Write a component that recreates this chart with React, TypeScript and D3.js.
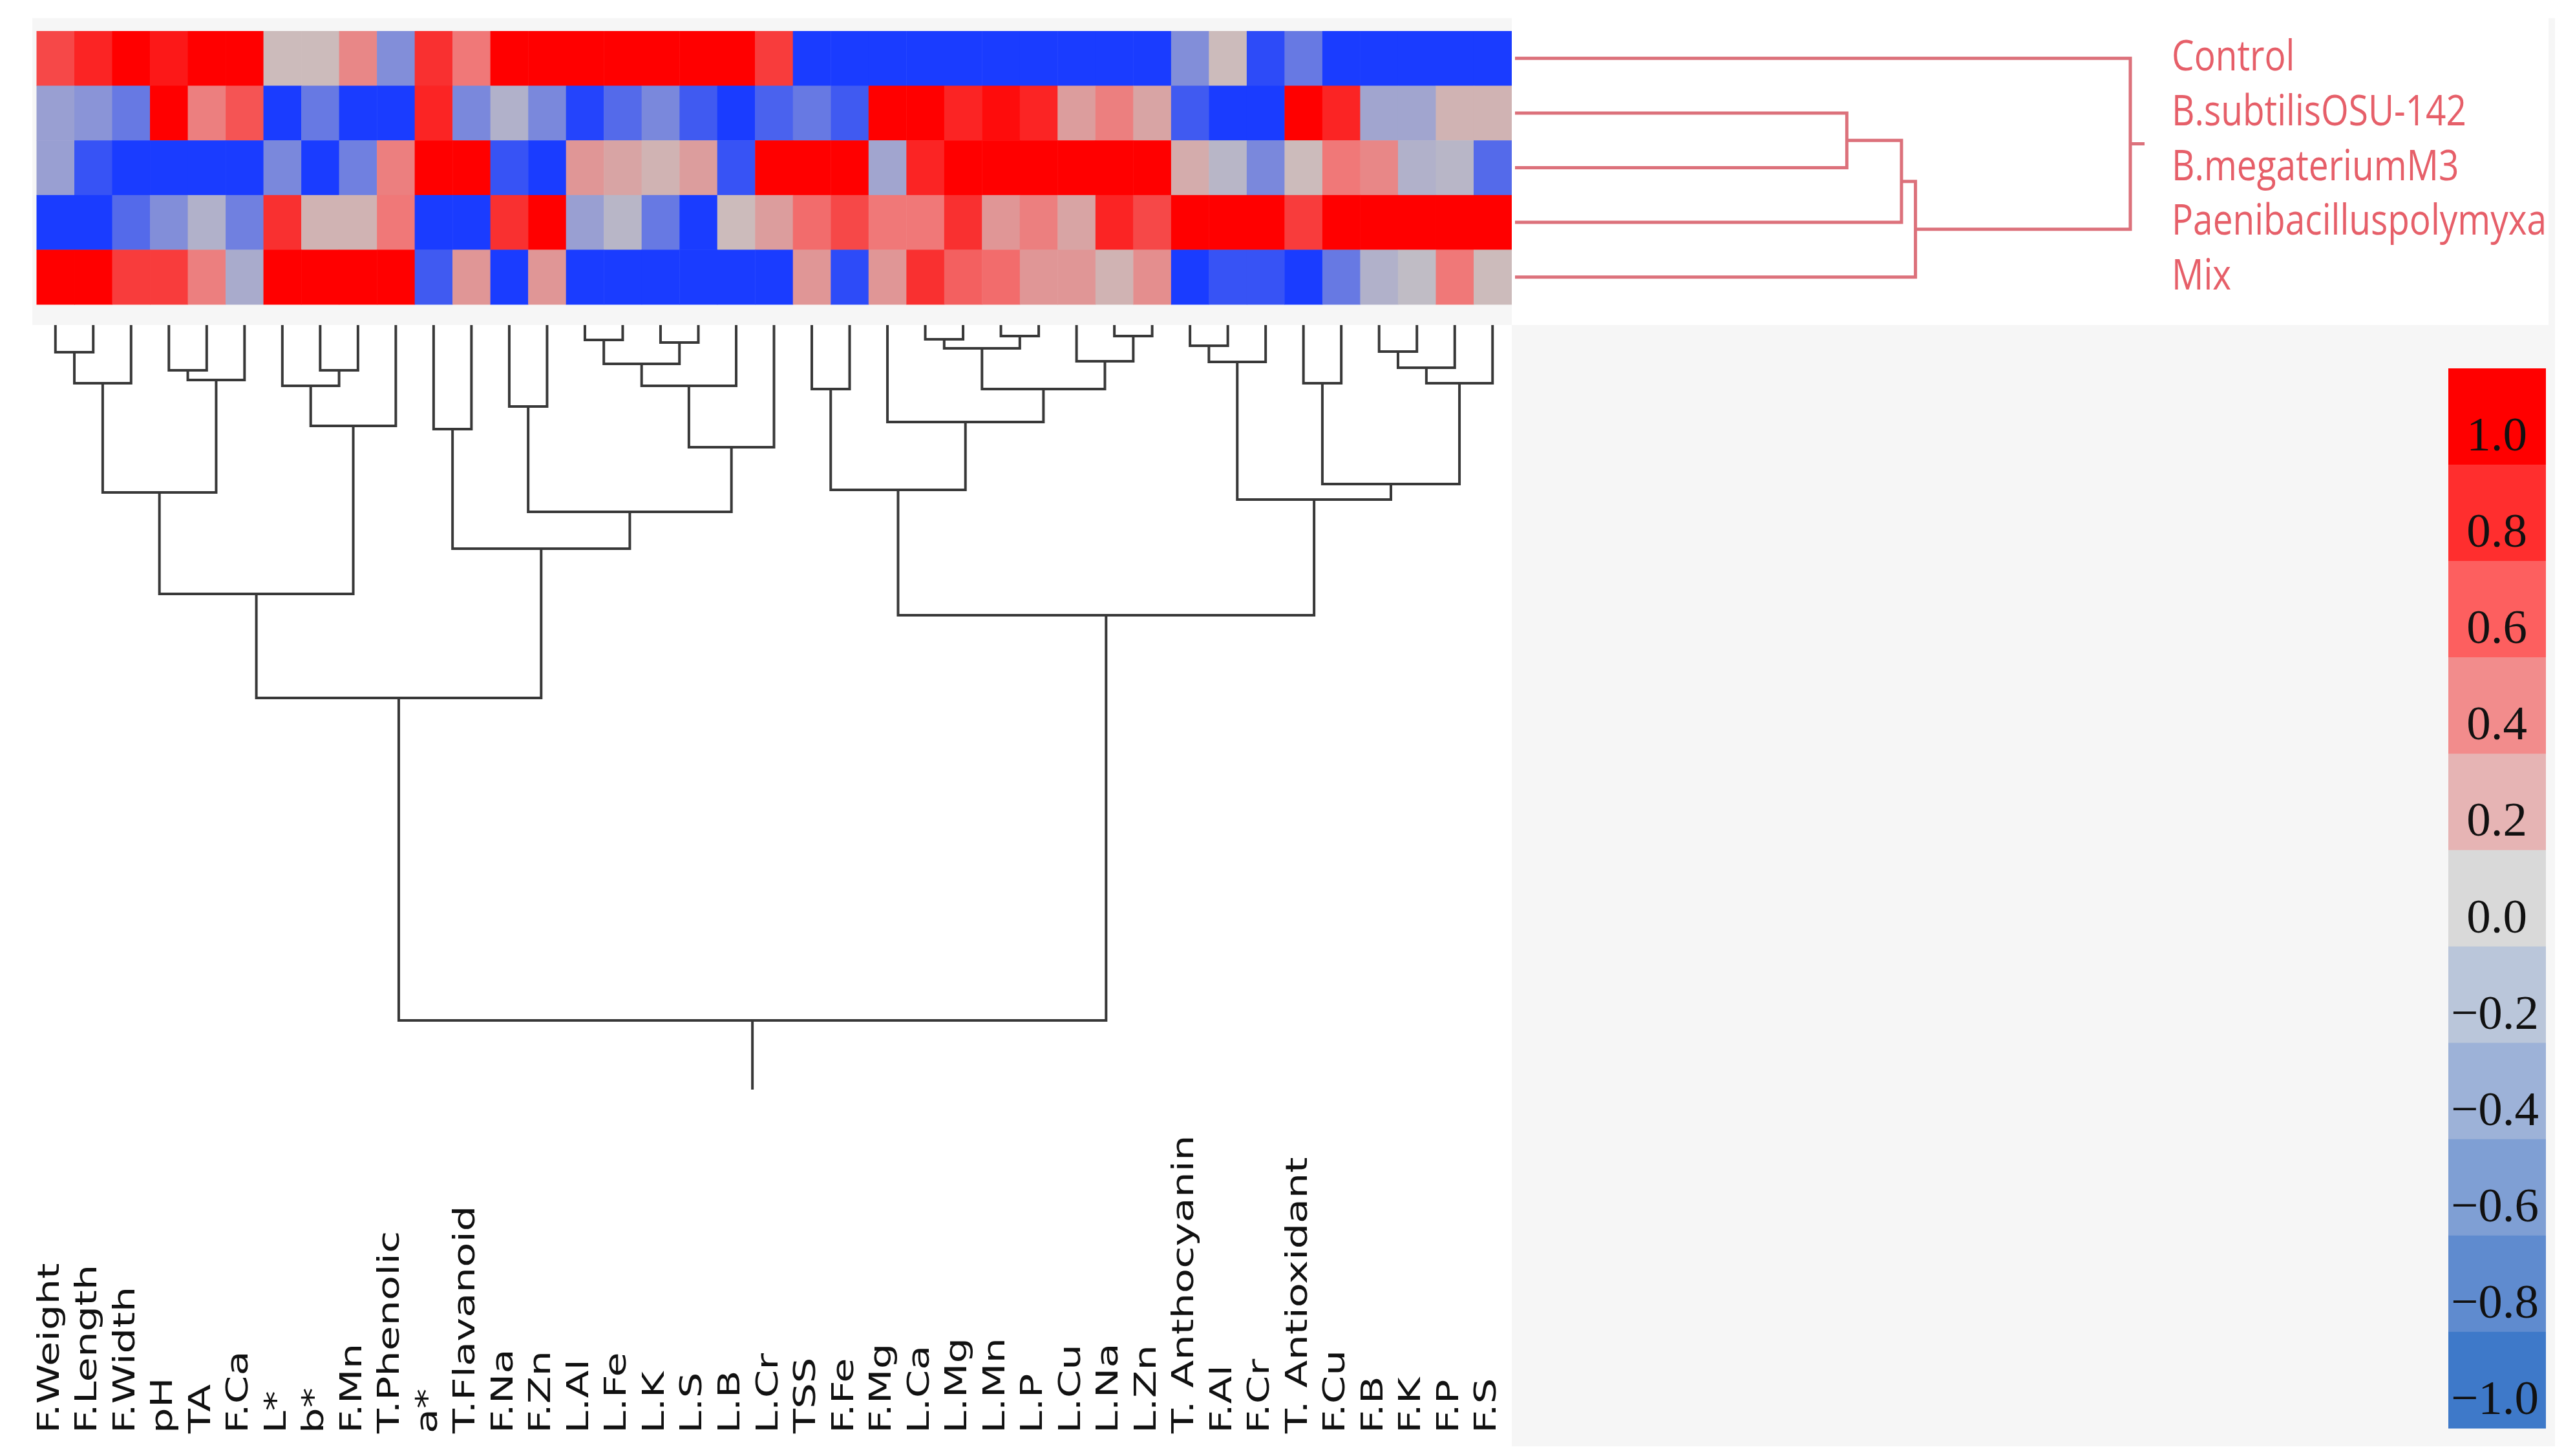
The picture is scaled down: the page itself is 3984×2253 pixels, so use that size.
import React from "react";
import * as d3 from "d3";

// ---------- data ----------
const columns = [
  "F.Weight", "F.Length", "F.Width", "pH", "TA", "F.Ca", "L*", "b*", "F.Mn", "T.Phenolic",
  "a*", "T.Flavanoid", "F.Na", "F.Zn", "L.Al", "L.Fe", "L.K", "L.S", "L.B", "L.Cr",
  "TSS", "F.Fe", "F.Mg", "L.Ca", "L.Mg", "L.Mn", "L.P", "L.Cu", "L.Na", "L.Zn",
  "T. Anthocyanin", "F.Al", "F.Cr", "T. Antioxidant", "F.Cu", "F.B", "F.K", "F.P", "F.S",
];

const treatments = ["Control", "B.subtilisOSU-142", "B.megateriumM3", "Paenibacilluspolymyxa", "Mix"];

const controlValues = [
  0.7, 0.85, 1.0, 0.9, 1.0, 1.0, 0.05, 0.05, 0.4, -0.45,
  0.8, 0.5, 1.0, 1.0, 1.0, 1.0, 1.0, 1.0, 1.0, 0.75,
  -1.0, -1.0, -1.0, -1.0, -1.0, -1.0, -1.0, -1.0, -1.0, -1.0,
  -0.45, 0.05, -0.9, -0.6, -1.0, -1.0, -1.0, -1.0, -1.0,
];
const subtilisValues = [
  -0.3, -0.4, -0.6, 1.0, 0.45, 0.65, -1.0, -0.6, -1.0, -1.0,
  0.85, -0.5, -0.15, -0.5, -0.95, -0.7, -0.5, -0.8, -1.0, -0.75,
  -0.6, -0.8, 1.0, 1.0, 0.85, 0.95, 0.85, 0.25, 0.45, 0.2,
  -0.8, -1.0, -1.0, 1.0, 0.85, -0.25, -0.25, 0.1, 0.1,
];
const megateriumValues = [
  -0.3, -0.85, -1.0, -1.0, -1.0, -1.0, -0.5, -1.0, -0.55, 0.45,
  1.0, 1.0, -0.85, -1.0, 0.3, 0.2, 0.1, 0.25, -0.85, 1.0,
  1.0, 1.0, -0.25, 0.85, 1.0, 1.0, 1.0, 1.0, 1.0, 1.0,
  0.15, -0.1, -0.5, 0.05, 0.5, 0.4, -0.15, -0.1, -0.7,
];
const polymyxaValues = [
  -1.0, -1.0, -0.7, -0.45, -0.15, -0.55, 0.8, 0.1, 0.1, 0.5,
  -1.0, -1.0, 0.8, 1.0, -0.3, -0.1, -0.6, -1.0, 0.05, 0.25,
  0.55, 0.7, 0.5, 0.5, 0.8, 0.3, 0.45, 0.2, 0.85, 0.7,
  1.0, 1.0, 1.0, 0.75, 1.0, 1.0, 1.0, 1.0, 1.0,
];
const mixValues = [
  1.0, 1.0, 0.75, 0.75, 0.45, -0.2, 1.0, 1.0, 1.0, 1.0,
  -0.8, 0.3, -1.0, 0.3, -1.0, -1.0, -1.0, -1.0, -1.0, -1.0,
  0.3, -0.9, 0.3, 0.8, 0.6, 0.55, 0.3, 0.3, 0.1, 0.35,
  -1.0, -0.85, -0.85, -1.0, -0.6, -0.15, -0.05, 0.5, 0.05,
];
const rowValues = [controlValues, subtilisValues, megateriumValues, polymyxaValues, mixValues];

// column linkage: [childA, childB, height]; ids >= 39 are merged clusters in order
const columnLinkage: [number, number, number][] = [
  [0, 1, 0.40], [39, 2, 0.88], [3, 4, 0.68], [41, 5, 0.83], [40, 42, 2.57],
  [7, 8, 0.68], [6, 44, 0.92], [45, 9, 1.54], [43, 46, 4.14], [10, 11, 1.59],
  [12, 13, 1.24], [14, 15, 0.21], [16, 17, 0.25], [50, 51, 0.58], [52, 18, 0.92],
  [53, 19, 1.87], [49, 54, 2.87], [48, 55, 3.44], [47, 56, 5.75], [20, 21, 0.97],
  [23, 24, 0.20], [25, 26, 0.15], [59, 60, 0.34], [28, 29, 0.15], [27, 62, 0.54],
  [61, 63, 0.97], [22, 64, 1.48], [58, 65, 2.53], [30, 31, 0.30], [67, 32, 0.55],
  [33, 34, 0.88], [35, 36, 0.39], [70, 37, 0.64], [71, 38, 0.88], [69, 72, 2.44],
  [68, 73, 2.68], [66, 74, 4.47], [57, 75, 10.74],
];

// row linkage: ids >= 5 are merged clusters
const rowLinkage: [number, number, number][] = [
  [1, 2, 5.22], [5, 3, 6.08], [6, 4, 6.30], [0, 7, 9.68],
];

const legendTicks = [1.0, 0.8, 0.6, 0.4, 0.2, 0.0, -0.2, -0.4, -0.6, -0.8, -1.0];

// ---------- styles ----------
const legendColors = [
  "#ff0000", "#ff2e2e", "#fd5f5f", "#f28c8c", "#e6b4b4", "#d9d9d9",
  "#bac6da", "#9db2d8", "#7f9fd4", "#5f8bcf", "#3e79c9",
];

export default function App() {
  const W = 3984;
  const H = 2253;

  const x = d3.scaleBand<number>().domain(d3.range(columns.length)).range([56.5, 2338.5]);
  const y = d3.scaleBand<number>().domain(d3.range(treatments.length)).range([48, 471]);
  const cx = (i: number) => (x(i) as number) + x.bandwidth() / 2;
  const cy = (i: number) => (y(i) as number) + y.bandwidth() / 2;

  const color = d3
    .scaleLinear<string>()
    .domain([-1, -0.5, 0, 0.5, 1])
    .range(["#1a3cff", "#7a88dc", "#c8c2c2", "#f07878", "#ff0000"])
    .interpolate(d3.interpolateRgb)
    .clamp(true);

  // column dendrogram
  const colRootH = d3.max(columnLinkage, (d) => d[2]) as number;
  const colH = d3.scaleLinear().domain([0, colRootH]).range([505, 1579]);
  const nCol = columns.length;
  const cNodeX: number[] = d3.range(nCol).map(cx);
  const cNodeY: number[] = d3.range(nCol).map(() => colH(0));
  const colPaths: string[] = [];
  columnLinkage.forEach(([a, b, h]) => {
    const yy = colH(h);
    colPaths.push(`M${cNodeX[a]},${cNodeY[a]}V${yy}H${cNodeX[b]}V${cNodeY[b]}`);
    cNodeX.push((cNodeX[a] + cNodeX[b]) / 2);
    cNodeY.push(yy);
  });
  const cRoot = cNodeX.length - 1;
  colPaths.push(`M${cNodeX[cRoot]},${cNodeY[cRoot]}V${cNodeY[cRoot] + 105}`);

  // row dendrogram
  const rowRootH = d3.max(rowLinkage, (d) => d[2]) as number;
  const rowH = d3.scaleLinear().domain([0, rowRootH]).range([2344, 3296]);
  const nRow = treatments.length;
  const rNodeX: number[] = d3.range(nRow).map(() => rowH(0));
  const rNodeY: number[] = d3.range(nRow).map(cy);
  const rowPaths: string[] = [];
  rowLinkage.forEach(([a, b, h]) => {
    const xx = rowH(h);
    rowPaths.push(`M${rNodeX[a]},${rNodeY[a]}H${xx}V${rNodeY[b]}H${rNodeX[b]}`);
    rNodeX.push(xx);
    rNodeY.push((rNodeY[a] + rNodeY[b]) / 2);
  });
  const rRoot = rNodeX.length - 1;
  rowPaths.push(`M${rNodeX[rRoot]},${rNodeY[rRoot]}H${rNodeX[rRoot] + 22}`);

  // legend
  const ly = d3.scaleBand<number>().domain(d3.range(legendTicks.length)).range([570, 2210]);
  const fmt = (v: number) => (v < 0 ? "\u2212" + Math.abs(v).toFixed(1) : v.toFixed(1));

  return (
    <svg width={W} height={H} viewBox={`0 0 ${W} ${H}`} style={{ display: "block", position: "absolute", left: 0, top: 0 }}>
      <rect x={0} y={0} width={W} height={H} fill="#ffffff" />
      <rect x={50} y={28} width={3903} height={2210} fill="#f6f6f6" />
      <rect x={2339} y={28} width={1604} height={475} fill="#ffffff" />
      <rect x={50} y={503} width={2289} height={1735} fill="#ffffff" />

      {/* heatmap */}
      <g>
        {rowValues.map((row, r) =>
          row.map((v, c) => (
            <rect
              key={`${r}-${c}`}
              x={x(c)}
              y={y(r)}
              width={x.bandwidth() + 0.5}
              height={y.bandwidth() + 0.5}
              fill={color(v)}
            />
          ))
        )}
      </g>

      {/* column dendrogram */}
      <g fill="none" stroke="#383838" strokeWidth={4} strokeLinecap="square">
        {colPaths.map((d, i) => (
          <path key={i} d={d} />
        ))}
      </g>

      {/* row dendrogram */}
      <g fill="none" stroke="#dc717b" strokeWidth={5}>
        {rowPaths.map((d, i) => (
          <path key={i} d={d} />
        ))}
      </g>

      {/* row labels */}
      <g fontFamily="'Open Sans', 'Noto Sans', sans-serif" fontSize={55} fill="#e65f69">
        {treatments.map((t, i) => (
          <text key={t} transform={`translate(3360,${cy(i) + 19}) scale(1,1.2)`}>
            {t}
          </text>
        ))}
      </g>

      {/* column labels */}
      <g fontFamily="'DejaVu Sans', sans-serif" fontSize={47} fill="#111111">
        {columns.map((c, i) => (
          <text key={c} transform={`translate(${cx(i) + 5},2218) rotate(-90) scale(1.33,1)`}>
            {c}
          </text>
        ))}
      </g>

      {/* color legend */}
      <g>
        {legendTicks.map((v, i) => (
          <rect
            key={`lg-${i}`}
            x={3788}
            y={ly(i)}
            width={151}
            height={ly.bandwidth() + 0.5}
            fill={legendColors[i]}
          />
        ))}
        <g fontFamily="'Liberation Serif', 'Times New Roman', serif" fontSize={75} fill="#111111" textAnchor="middle">
          {legendTicks.map((v, i) => (
            <text key={`lt-${i}`} x={v < 0 ? 3860 : 3863} y={(ly(i) as number) + ly.bandwidth() - 22}>
              {fmt(v)}
            </text>
          ))}
        </g>
      </g>
    </svg>
  );
}
